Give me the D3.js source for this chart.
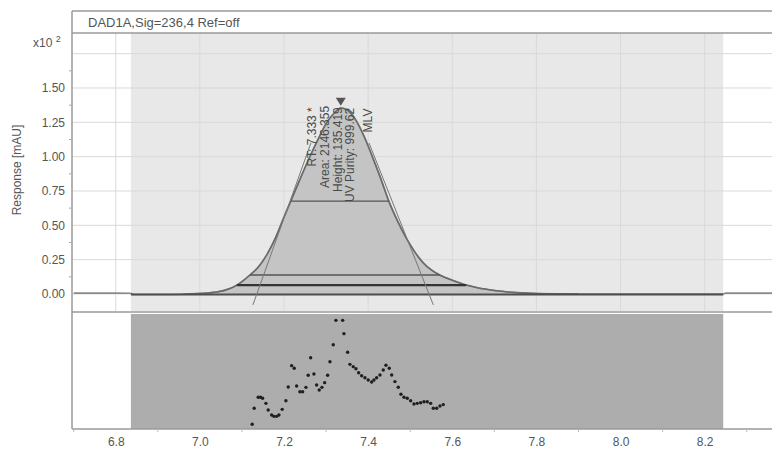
<!DOCTYPE html>
<html>
<head>
  <meta charset="utf-8">
  <title>DAD1A peak</title>
  <script src="https://cdn.jsdelivr.net/npm/d3@7/dist/d3.min.js"></script>
  <style>
    body { margin: 0; background: #fff; }
    text { font-family: "Liberation Sans", Arial, sans-serif; }
  </style>
</head>
<body>
  <svg width="772" height="451" id="mainsvg"></svg>
  <script>
      // values
      const titleText = 'DAD1A,Sig=236,4 Ref=off';
      const xTicks = [6.8, 7.0, 7.2, 7.4, 7.6, 7.8, 8.0, 8.2];
      const xMinor = [6.7, 6.9, 7.1, 7.3, 7.5, 7.7, 7.9, 8.1, 8.3];
      const yTicks = [0, 0.25, 0.5, 0.75, 1.0, 1.25, 1.5];
      const yGrid = [0, 0.25, 0.5, 0.75, 1.0, 1.25, 1.5, 1.75];
      const yMinor = [0.125, 0.375, 0.625, 0.875, 1.125, 1.375, 1.625];
      const integStart = 6.836, integEnd = 8.244;

      const sigTime = [6.70, 6.80, 6.835, 6.845, 6.90, 6.96, 7.00, 7.04, 7.07, 7.088, 7.10, 7.119, 7.14, 7.16, 7.18, 7.20,
        7.216, 7.24, 7.26, 7.28, 7.30, 7.32, 7.335, 7.35, 7.37, 7.39, 7.41, 7.43, 7.449, 7.47, 7.49, 7.51, 7.53, 7.55,
        7.57, 7.60, 7.633, 7.66, 7.70, 7.75, 7.80, 7.90, 8.00, 8.10, 8.244, 8.25, 8.36];
      const sigResp = [0.006, 0.006, 0.005, -0.004, -0.004, -0.002, 0.004, 0.014, 0.038, 0.065, 0.09, 0.138, 0.20, 0.29, 0.41, 0.56,
        0.676, 0.85, 0.99, 1.12, 1.24, 1.32, 1.354, 1.34, 1.27, 1.15, 1.00, 0.84, 0.676, 0.53, 0.41, 0.31, 0.23, 0.175,
        0.138, 0.10, 0.065, 0.045, 0.025, 0.01, 0.003, 0.0, 0.0, 0.0, 0.0, 0.006, 0.006];

      // width lines across the peak
      const lineLevel = [0.676, 0.138, 0.065];
      const lineStart = [7.216, 7.119, 7.088];
      const lineEnd = [7.449, 7.57, 7.633];

      // tangents (time, response) pairs
      const tanT0 = [7.126, 7.555], tanV0 = [-0.08, -0.08];
      const tanT1 = [7.264, 7.402], tanV1 = [1.10, 1.10];

      const apexTime = 7.335, apexResp = 1.40;
      const annoText = ['RT: 7.333 *', 'Area: 2146.355', 'Height: 135.419', 'UV Purity: 999.62', 'MLV'];
      const annoTime = [7.276, 7.307, 7.338, 7.366, 7.409];
      const annoResp = [1.36, 1.37, 1.36, 1.355, 1.35];

      // purity points for the lower panel (relative units)
      const purTime = [7.1244, 7.1291, 7.1386, 7.1443, 7.1491, 7.1570, 7.1624, 7.1705, 7.1760, 7.1824, 7.1879, 7.1957,
        7.2045, 7.2100, 7.2181, 7.2243, 7.2300, 7.2378, 7.2442, 7.2521, 7.2575, 7.2633, 7.2711, 7.2775, 7.2837, 7.2901,
        7.2966, 7.3037, 7.3092, 7.3170, 7.3234, 7.3394, 7.3424, 7.3512, 7.3567, 7.3646, 7.3710, 7.3774, 7.3845, 7.3924,
        7.4002, 7.4083, 7.4138, 7.4202, 7.4281, 7.4359, 7.4423, 7.4502, 7.4559, 7.4637, 7.4716, 7.4780, 7.4851, 7.4930,
        7.5010, 7.5089, 7.5167, 7.5248, 7.5327, 7.5405, 7.5486, 7.5548, 7.5629, 7.5707, 7.5786];
      const purVal = [4.1, 18.0, 27.6, 27.6, 26.7, 22.3, 16.5, 12.2, 11.0, 11.0, 12.2, 17.1,
        24.6, 36.5, 55.1, 52.8, 37.4, 32.4, 32.4, 36.2, 46.7, 62.0, 47.8, 38.3, 33.9, 36.2,
        40.3, 46.7, 58.5, 73.3, 94.5, 94.5, 82.9, 66.7, 56.2, 54.2, 52.4, 48.9, 46.3, 44.6,
        42.6, 40.9, 42.6, 44.6, 47.0, 51.3, 55.4, 52.8, 47.0, 41.2, 36.3, 30.2, 27.6, 26.7,
        24.6, 21.7, 22.3, 22.8, 23.7, 23.7, 22.3, 18.0, 18.0, 20.0, 21.2];

      const svg = d3.select('svg');
      const frame = {left: 72, right: 772, titleTop: 11, top: 33, mainBottom: 311, lowTop: 314, bottom: 429};

      const xScale = d3.scaleLinear().domain([6.696, 8.36]).range([frame.left, frame.right]);
      const yScale = d3.scaleLinear().domain([-0.124, 1.9005]).range([frame.mainBottom, frame.top]);
      const pScale = d3.scaleLinear().domain([0, 100]).range([frame.bottom, frame.lowTop]);

      const signal = sigTime.map((t, i) => ({t: t, v: sigResp[i]}));
      const purity = purTime.map((t, i) => ({t: t, v: purVal[i]}));

      // title bar
      svg.append('rect').attr('x', frame.left).attr('y', frame.titleTop)
        .attr('width', frame.right - frame.left).attr('height', frame.top - frame.titleTop).attr('fill', '#fff');
      svg.append('text').text(titleText).attr('x', 88).attr('y', 27)
        .attr('font-size', 13).attr('fill', '#555');

      // grey integration region
      svg.append('rect').attr('x', xScale(integStart)).attr('y', frame.top)
        .attr('width', xScale(integEnd) - xScale(integStart)).attr('height', frame.mainBottom - frame.top)
        .attr('fill', '#e8e8e8');

      // grid
      const grid = svg.append('g');
      grid.selectAll('.hg').data(yGrid).join('line')
        .attr('x1', frame.left).attr('x2', frame.right)
        .attr('y1', d => yScale(d)).attr('y2', d => yScale(d))
        .attr('stroke', '#d9d9d9').attr('stroke-width', 1);
      grid.selectAll('.vg').data(xTicks).join('line')
        .attr('x1', d => xScale(d)).attr('x2', d => xScale(d))
        .attr('y1', frame.top).attr('y2', frame.mainBottom)
        .attr('stroke', '#d9d9d9').attr('stroke-width', 1);

      // peak fill and outline
      const inRange = signal.filter(d => d.t >= 6.845 && d.t <= integEnd);
      const area = d3.area().x(d => xScale(d.t)).y0(yScale(0)).y1(d => yScale(d.v)).curve(d3.curveMonotoneX);
      svg.append('path').datum(inRange).attr('d', area).attr('fill', '#c4c4c4');

      const line = d3.line().x(d => xScale(d.t)).y(d => yScale(d.v)).curve(d3.curveMonotoneX);
      svg.append('path').datum(signal).attr('d', line)
        .attr('fill', 'none').attr('stroke', '#8a8a8a').attr('stroke-width', 1.6);
      svg.append('path').datum(signal.filter(d => d.t >= 6.96 && d.t <= 7.9)).attr('d', line)
        .attr('fill', 'none').attr('stroke', '#6a6a6a').attr('stroke-width', 1.5);

      // baseline
      svg.append('line').attr('x1', xScale(integStart)).attr('x2', xScale(integEnd))
        .attr('y1', yScale(-0.004)).attr('y2', yScale(-0.004))
        .attr('stroke', '#4d4d4d').attr('stroke-width', 2);

      // width lines
      const lineStroke = ['#555', '#555', '#333'], lineWidth = [1.2, 1.6, 2.2];
      svg.selectAll('.wl').data(lineLevel).join('line')
        .attr('x1', (d, i) => xScale(lineStart[i])).attr('x2', (d, i) => xScale(lineEnd[i]))
        .attr('y1', d => yScale(d)).attr('y2', d => yScale(d))
        .attr('stroke', (d, i) => lineStroke[i]).attr('stroke-width', (d, i) => lineWidth[i]);

      // tangents
      svg.selectAll('.tg').data(tanT0).join('line')
        .attr('x1', (d, i) => xScale(tanT0[i])).attr('y1', (d, i) => yScale(tanV0[i]))
        .attr('x2', (d, i) => xScale(tanT1[i])).attr('y2', (d, i) => yScale(tanV1[i]))
        .attr('stroke', '#777').attr('stroke-width', 1);

      // apex marker
      const ax = xScale(apexTime), ay = yScale(apexResp);
      svg.append('path').attr('d', `M${ax - 5},${ay - 4}L${ax + 5},${ay - 4}L${ax},${ay + 4}Z`).attr('fill', '#555');

      // peak annotation
      svg.selectAll('.anno').data(annoText).join('text')
        .text(d => d)
        .attr('transform', (d, i) => `translate(${xScale(annoTime[i])}, ${yScale(annoResp[i])}) rotate(-90)`)
        .attr('text-anchor', 'end').attr('font-size', 12).attr('fill', '#4a4a4a');

      // lower panel
      svg.append('rect').attr('x', xScale(integStart)).attr('y', frame.lowTop)
        .attr('width', xScale(integEnd) - xScale(integStart)).attr('height', frame.bottom - frame.lowTop)
        .attr('fill', '#adadad');
      svg.selectAll('.pd').data(purity).join('circle')
        .attr('cx', d => xScale(d.t)).attr('cy', d => pScale(d.v)).attr('r', 1.7)
        .attr('fill', '#1f1f1f');

      // frame lines
      const frameLines = svg.append('g').attr('stroke', '#9a9a9a').attr('stroke-width', 1.5);
      frameLines.append('line').attr('x1', frame.left).attr('x2', frame.right).attr('y1', frame.titleTop).attr('y2', frame.titleTop);
      frameLines.append('line').attr('x1', frame.left).attr('x2', frame.right).attr('y1', frame.top).attr('y2', frame.top);
      frameLines.append('line').attr('x1', frame.left).attr('x2', frame.right).attr('y1', frame.mainBottom + 1).attr('y2', frame.mainBottom + 1);
      frameLines.append('line').attr('x1', frame.left).attr('x2', frame.left).attr('y1', frame.titleTop).attr('y2', frame.bottom);
      frameLines.append('line').attr('x1', frame.left).attr('x2', frame.right).attr('y1', frame.bottom).attr('y2', frame.bottom);

      // left axis
      const yAxis = d3.axisLeft(yScale).tickValues(yTicks).tickSize(0).tickPadding(7).tickFormat(d3.format('.2f'));
      const yAxisGroup = svg.append('g').attr('transform', `translate(${frame.left}, 0)`).call(yAxis);
      yAxisGroup.select('.domain').remove();
      yAxisGroup.selectAll('text').attr('font-size', 12).attr('fill', '#555')
        .attr('font-family', '"Liberation Sans", Arial, sans-serif');
      svg.selectAll('.ym').data(yMinor).join('line')
        .attr('x1', frame.left - 3).attr('x2', frame.left)
        .attr('y1', d => yScale(d)).attr('y2', d => yScale(d)).attr('stroke', '#aaa');

      const expo = svg.append('text').attr('x', 33).attr('y', 47).attr('font-size', 12).attr('fill', '#555');
      expo.append('tspan').text('x10 ');
      expo.append('tspan').text('2').attr('font-size', 9).attr('dy', -5);

      svg.append('text').text('Response [mAU]')
        .attr('transform', 'translate(21, 170) rotate(-90)')
        .attr('text-anchor', 'middle').attr('font-size', 12).attr('fill', '#555');

      // bottom axis
      const xAxis = d3.axisBottom(xScale).tickValues(xTicks).tickSize(0).tickPadding(8).tickFormat(d3.format('.1f'));
      const xAxisGroup = svg.append('g').attr('transform', `translate(0, ${frame.bottom})`).call(xAxis);
      xAxisGroup.select('.domain').remove();
      xAxisGroup.selectAll('text').attr('font-size', 12).attr('fill', '#555')
        .attr('font-family', '"Liberation Sans", Arial, sans-serif');
      svg.selectAll('.xm').data(xMinor).join('line')
        .attr('x1', d => xScale(d)).attr('x2', d => xScale(d))
        .attr('y1', frame.bottom).attr('y2', frame.bottom + 3).attr('stroke', '#bbb');
  </script>
</body>
</html>
